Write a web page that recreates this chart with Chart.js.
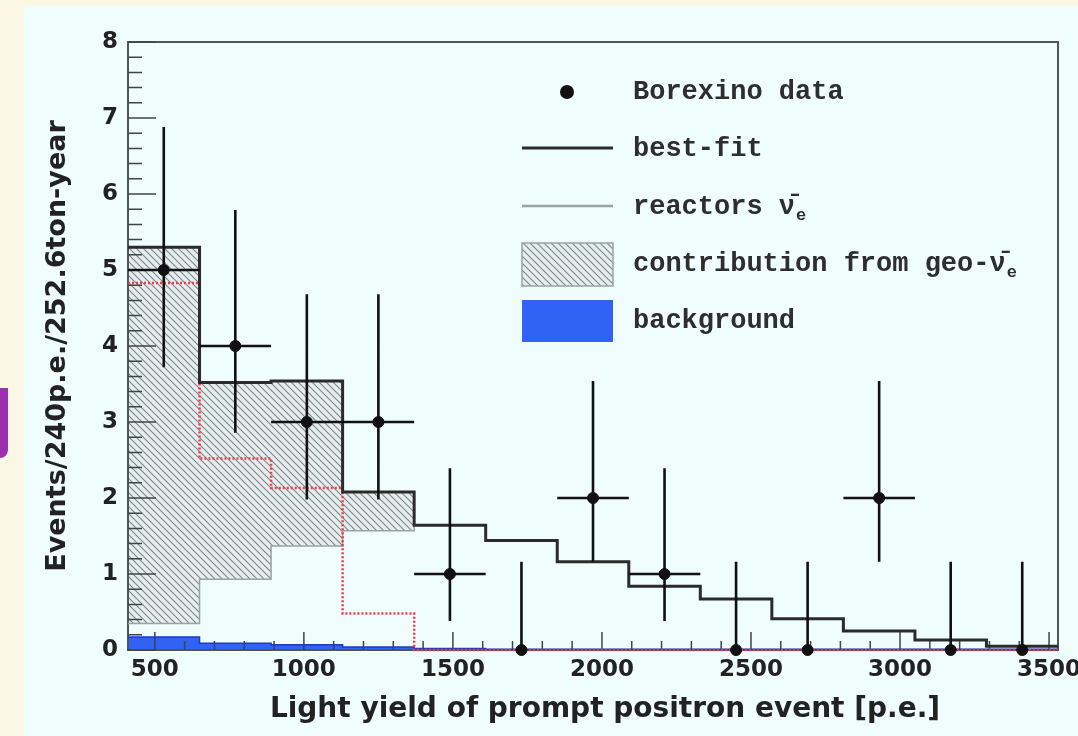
<!DOCTYPE html>
<html>
<head>
<meta charset="utf-8">
<script src="https://cdn.jsdelivr.net/npm/chart.js@4.4.1/dist/chart.umd.min.js"></script>
<style>
  html, body { margin: 0; padding: 0; background: #fcf6e4; }
  #wrap { position: relative; width: 1078px; height: 736px; overflow: hidden; }
  #panel { position: absolute; left: 24px; top: 6px; right: 0; bottom: 0; background: #effdfd; }
  #mark { position: absolute; left: 0; top: 388px; width: 8px; height: 70px; background: #9c2fae; border-bottom-right-radius: 8px; }
  canvas { position: absolute; left: 0; top: 0; }
</style>
</head>
<body>
<div id="wrap">
  <div id="panel"></div>
  <div id="mark"></div>
  <canvas id="geoChart" width="1078" height="736"></canvas>
</div>
<script>
// bins of 240 p.e., given by their centres
const binCenters = [530, 770, 1010, 1250, 1490, 1730, 1970, 2210, 2450, 2690, 2930, 3170, 3410];
const binWidth = 240;

// Borexino data points and their error band
const dataCounts = [5, 4, 3, 3, 1, 0, 2, 1, 0, 0, 2, 0, 0];
const errLow  = [3.72, 2.86, 1.98, 1.98, 0.38, 0, 1.16, 0.38, 0, 0, 1.16, 0, 0];
const errHigh = [6.88, 5.79, 4.68, 4.68, 2.39, 1.16, 3.54, 2.39, 1.16, 1.16, 3.54, 1.16, 1.16];

// histograms
const bestFit    = [5.30, 3.52, 3.54, 2.08, 1.64, 1.44, 1.16, 0.84, 0.67, 0.41, 0.25, 0.13, 0.05];
const reactors   = [0.35, 0.93, 1.37, 1.57, 1.64, 1.44, 1.16, 0.84, 0.67, 0.41, 0.25, 0.13, 0.05];
const geoNu      = [4.83, 2.52, 2.13, 0.48, 0, 0, 0, 0, 0, 0, 0, 0, 0];
const background = [0.17, 0.09, 0.07, 0.04, 0.02, 0.01, 0.01, 0.01, 0.01, 0.01, 0.01, 0.01, 0.01];

const xTicks = [500, 1000, 1500, 2000, 2500, 3000, 3500];
const xTickLabels = ["500", "1000", "1500", "2000", "2500", "3000", "3500"];
const yTicks = [0, 1, 2, 3, 4, 5, 6, 7, 8];
const yTickLabels = ["0", "1", "2", "3", "4", "5", "6", "7", "8"];

const legendLabels = ["Borexino data", "best-fit", "reactors \u03BD\u0304", "contribution from geo-\u03BD\u0304", "background"];
const legendSubs = ["", "", "e", "e", ""];

const xTitle = "Light yield of prompt positron event [p.e.]";
const yTitle = "Events/240p.e./252.6ton-year";

// histogram -> stepped points at the bin edges
function steps(vals) {
  const pts = vals.map((v, i) => ({ x: binCenters[i] - binWidth / 2, y: v }));
  pts.push({ x: binCenters[vals.length - 1] + binWidth / 2, y: vals[vals.length - 1] });
  return pts;
}

function hatch() {
  const c = document.createElement("canvas");
  c.width = 7; c.height = 7;
  const g = c.getContext("2d");
  g.fillStyle = "#e5edee";
  g.fillRect(0, 0, 7, 7);
  g.strokeStyle = "#808b8b";
  g.lineWidth = 1.2;
  g.beginPath();
  g.moveTo(-1, -1); g.lineTo(8, 8);
  g.moveTo(-1, 6); g.lineTo(1, 8);
  g.moveTo(6, -1); g.lineTo(8, 1);
  g.stroke();
  return g.createPattern(c, "repeat");
}
const hatchFill = hatch();

const rootFrame = {
  id: "rootFrame",
  beforeDatasetsDraw(chart) {
    const { ctx, chartArea: a, scales: { x, y } } = chart;
    ctx.save();
    ctx.strokeStyle = "#4f5656";
    ctx.lineWidth = 2;
    ctx.strokeRect(a.left, a.top, a.right - a.left, a.bottom - a.top);
    ctx.lineWidth = 1.5;
    ctx.strokeStyle = "#3e4545";
    ctx.beginPath();
    for (let k = 0; k <= 40; k++) {
      const py = y.getPixelForValue(k * 0.2);
      ctx.moveTo(a.left, py);
      ctx.lineTo(a.left + (k % 5 === 0 ? 28 : 14), py);
    }
    for (let v = 500; v <= 3500; v += 100) {
      const px = x.getPixelForValue(v);
      ctx.moveTo(px, a.bottom);
      ctx.lineTo(px, a.bottom - (v % 500 === 0 ? 18 : 9));
    }
    ctx.stroke();
    ctx.restore();
  },
  afterDatasetsDraw(chart) {
    const { ctx, scales: { x, y } } = chart;
    ctx.save();
    ctx.strokeStyle = "#111";
    ctx.lineWidth = 2.6;
    ctx.beginPath();
    binCenters.forEach((c, i) => {
      const px = x.getPixelForValue(c);
      const py = y.getPixelForValue(dataCounts[i]);
      ctx.moveTo(px, y.getPixelForValue(errLow[i]));
      ctx.lineTo(px, y.getPixelForValue(errHigh[i]));
      if (dataCounts[i] > 0) {
        ctx.moveTo(x.getPixelForValue(c - binWidth / 2), py);
        ctx.lineTo(x.getPixelForValue(c + binWidth / 2), py);
      }
    });
    ctx.stroke();
    ctx.restore();
  },
  afterDraw(chart) {
    const { ctx, chartArea: a } = chart;
    ctx.save();
    // x axis title
    ctx.fillStyle = "#222";
    ctx.font = "bold 28px 'DejaVu Sans'";
    ctx.textAlign = "center";
    ctx.textBaseline = "middle";
    ctx.fillText(xTitle, (a.left + a.right) / 2 + 12, 710);

    // legend
    const ds = chart.data.datasets;
    const sx0 = 522, sx1 = 613, tx = 633;
    const rows = [92, 149, 207, 264, 321];
    ctx.fillStyle = ds[0].pointBackgroundColor;
    ctx.beginPath(); ctx.arc(567, rows[0], 7, 0, Math.PI * 2); ctx.fill();
    ctx.strokeStyle = ds[1].borderColor; ctx.lineWidth = 3;
    ctx.beginPath(); ctx.moveTo(sx0, rows[1] - 1); ctx.lineTo(sx1, rows[1] - 1); ctx.stroke();
    ctx.strokeStyle = ds[3].borderColor; ctx.lineWidth = 2.5;
    ctx.beginPath(); ctx.moveTo(sx0, rows[2] - 1); ctx.lineTo(sx1, rows[2] - 1); ctx.stroke();
    ctx.fillStyle = hatchFill;
    ctx.fillRect(sx0, rows[3] - 21, sx1 - sx0, 43);
    ctx.strokeStyle = "#9aa3a3"; ctx.lineWidth = 1.5;
    ctx.strokeRect(sx0, rows[3] - 21, sx1 - sx0, 43);
    ctx.fillStyle = ds[4].backgroundColor;
    ctx.fillRect(sx0, rows[4] - 21, sx1 - sx0, 42);

    ctx.fillStyle = "#2e2e2e";
    ctx.textAlign = "left";
    legendLabels.forEach((t, i) => {
      ctx.font = "bold 27px 'Liberation Mono', 'DejaVu Sans Mono', monospace";
      ctx.fillText(t, tx, rows[i]);
      if (legendSubs[i]) {
        const w = ctx.measureText(t).width;
        ctx.font = "bold 17px 'Liberation Mono', 'DejaVu Sans Mono', monospace";
        ctx.fillText(legendSubs[i], tx + w + 1, rows[i] + 9);
      }
    });
    ctx.restore();
  }
};

const tickFont = { family: "DejaVu Sans", weight: "bold", size: 23 };

new Chart(document.getElementById("geoChart"), {
  type: "scatter",
  data: {
    datasets: [
      {
        label: "Borexino data",
        data: binCenters.map((c, i) => ({ x: c, y: dataCounts[i] })),
        pointRadius: 5.5,
        pointBackgroundColor: "#111",
        pointBorderColor: "#111",
        showLine: false,
        clip: false,
        order: 0
      },
      {
        type: "line",
        label: "best-fit",
        data: steps(bestFit),
        stepped: true,
        borderColor: "#2b2b2b",
        borderWidth: 3,
        pointRadius: 0,
        backgroundColor: hatchFill,
        fill: 3,
        order: 1
      },
      {
        type: "line",
        label: "geo",
        data: steps(geoNu),
        stepped: true,
        borderColor: "#f03a4a",
        borderWidth: 2.5,
        borderDash: [2, 2],
        pointRadius: 0,
        fill: false,
        clip: 4,
        order: 2
      },
      {
        type: "line",
        label: "reactors",
        data: steps(reactors),
        stepped: true,
        borderColor: "#9aa2a2",
        borderWidth: 1.5,
        pointRadius: 0,
        fill: false,
        order: 3
      },
      {
        type: "line",
        label: "background",
        data: steps(background),
        stepped: true,
        borderColor: "#1d3bbd",
        borderWidth: 1.5,
        backgroundColor: "#2f62f5",
        pointRadius: 0,
        fill: "origin",
        order: 4
      }
    ]
  },
  options: {
    responsive: false,
    animation: false,
    events: [],
    layout: { padding: { left: 0, right: 20, top: 42, bottom: 0 } },
    plugins: {
      legend: { display: false },
      tooltip: { enabled: false },
      filler: { drawTime: "beforeDatasetsDraw", propagate: false }
    },
    scales: {
      x: {
        type: "linear",
        min: 410,
        max: 3530,
        grid: { display: false, drawTicks: false },
        border: { display: false },
        ticks: {
          padding: 6,
          autoSkip: false,
          maxRotation: 0,
          color: "#222",
          font: tickFont,
          callback: (v) => xTickLabels[xTicks.indexOf(v)]
        },
        afterBuildTicks: (s) => { s.ticks = xTicks.map(v => ({ value: v })); },
        afterFit: (s) => { s.height = 86; s.paddingLeft = 0; s.paddingRight = 0; }
      },
      y: {
        min: 0,
        max: 8,
        grid: { display: false, drawTicks: false },
        border: { display: false },
        ticks: {
          padding: 10,
          color: "#222",
          font: tickFont,
          callback: (v) => yTickLabels[yTicks.indexOf(v)]
        },
        title: {
          display: true,
          text: yTitle,
          color: "#222",
          font: { family: "DejaVu Sans", weight: "bold", size: 27 },
          padding: { top: 42, bottom: 0 }
        },
        afterBuildTicks: (s) => { s.ticks = yTicks.map(v => ({ value: v })); },
        afterFit: (s) => { s.width = 128; s.paddingTop = 0; s.paddingBottom = 0; }
      }
    }
  },
  plugins: [rootFrame]
});
</script>
</body>
</html>
